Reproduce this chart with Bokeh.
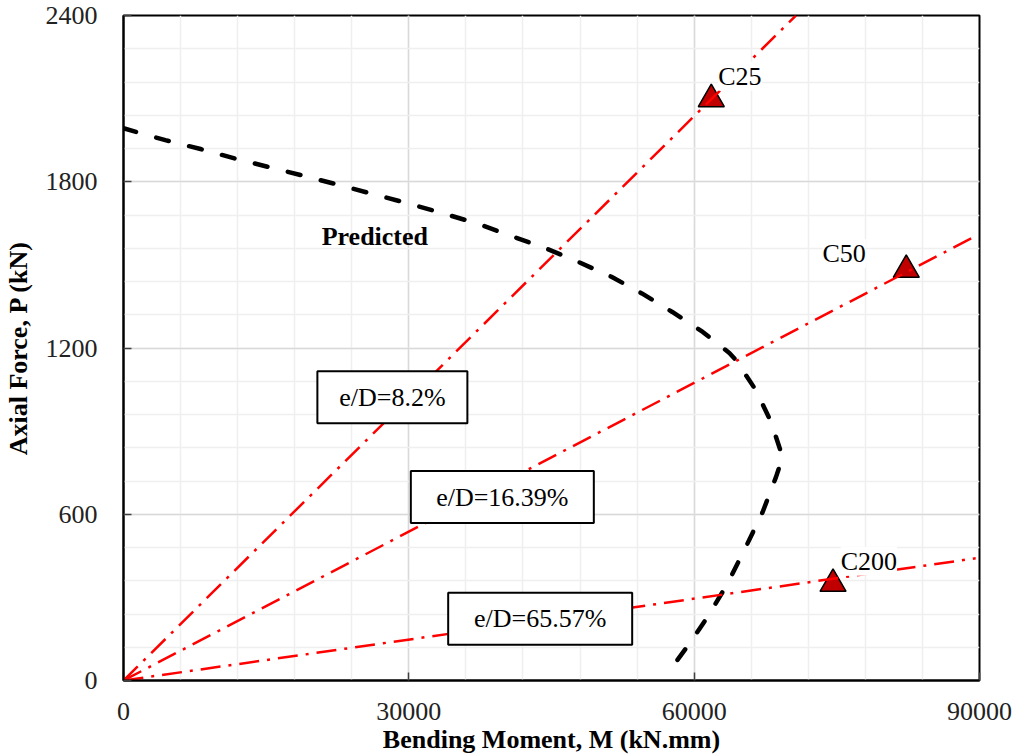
from bokeh.plotting import figure
from bokeh.models import Range1d, FixedTicker, NumeralTickFormatter, Label
from bokeh.core.properties import value
from bokeh.embed import file_html
from bokeh.resources import INLINE

# ---------------- data ----------------
# Predicted P-M interaction curve (M in kN.mm, P in kN)
pred_m = [0, 4400, 8100, 11700, 15400, 19000, 22600, 26300, 29900, 33600,
          37200, 40800, 44300, 47800, 51300, 54500, 57700, 60900, 63700,
          64400, 66500, 68100, 69300, 68600, 67200, 65600, 63500, 61400,
          59500, 57900]
pred_p = [1993, 1950, 1918, 1884, 1852, 1821, 1789, 1755, 1722, 1686,
          1649, 1604, 1561, 1511, 1457, 1397, 1330, 1258, 1182,
          1156, 1047, 932, 806, 734, 608, 494, 349, 229,
          133, 58]

# Eccentricity lines (from the origin)
ecc_labels = ["e/D=8.2%", "e/D=16.39%", "e/D=65.57%"]
ecc_end_m = [70700, 89600, 89600]
ecc_end_p = [2400, 1604, 441]

# Test results
test_names = ["C25", "C50", "C200"]
test_m = [61800, 82300, 74600]
test_p = [2098, 1482, 349]

x_ticks = [0, 30000, 60000, 90000]
y_ticks = [0, 600, 1200, 1800, 2400]

# ---------------- annotation positions ----------------
box_m = [28270, 39830, 43810]
box_p = [1022, 662, 223]
box_w = [150, 183, 184]
name_m = [62530, 73490, 75410]
name_p = [2181, 1541, 430]

FONT = "Liberation Serif"
FS = "26px"

p = figure(width=1017, height=756,
           x_range=Range1d(0, 90000), y_range=Range1d(0, 2400),
           output_backend="svg", toolbar_location=None,
           min_border_left=121, min_border_top=15, min_border_right=38,
           min_border_bottom=76)
p.background_fill_color = "white"
p.border_fill_color = "white"
p.outline_line_color = "black"
p.outline_line_width = 2

p.xaxis.ticker = FixedTicker(ticks=x_ticks, minor_ticks=list(range(0, 90001, 6000)))
p.yaxis.ticker = FixedTicker(ticks=y_ticks, minor_ticks=list(range(0, 2401, 120)))
for ax in (p.xaxis[0], p.yaxis[0]):
    ax.formatter = NumeralTickFormatter(format="0")
    ax.major_tick_in = 8
    ax.major_tick_out = 0
    ax.major_tick_line_color = "#404040"
    ax.major_tick_line_width = 1.5
    ax.minor_tick_line_color = None
    ax.axis_line_color = "black"
    ax.axis_line_width = 2
    ax.major_label_text_font = FONT
    ax.major_label_text_font_size = FS
    ax.major_label_text_color = "#222222"
    ax.axis_label_text_font = FONT
    ax.axis_label_text_font_size = FS
    ax.axis_label_text_font_style = "bold"
    ax.axis_label_text_color = "black"

p.xaxis.axis_label = "Bending Moment, M (kN.mm)"
p.yaxis.axis_label = "Axial Force, P (kN)"
p.xaxis.major_label_standoff = 18
p.xaxis.axis_label_standoff = 2
p.yaxis.major_label_standoff = 22
p.yaxis.axis_label_standoff = 10

for g in (p.xgrid[0], p.ygrid[0]):
    g.grid_line_color = "#d9d9d9"
    g.grid_line_width = 1.5
    g.minor_grid_line_color = "#efefef"
    g.minor_grid_line_width = 1.5

# test points (drawn under the lines)
p.scatter(test_m, test_p, marker="triangle", size=26,
          fill_color="#c00000", line_color="black", line_width=1.5)

# predicted curve
p.line(pred_m, pred_p, line_color="black", line_width=4.5,
       line_dash="13 21", line_cap="round", line_join="round")

# eccentricity lines
p.multi_line(xs=[[0, m] for m in ecc_end_m], ys=[[0, v] for v in ecc_end_p],
             line_color="#ff0000", line_width=2.5, line_dash="20 8 3 8")

# e/D boxes
p.rect(x=box_m, y=box_p, width=box_w, height=52,
       width_units="screen", height_units="screen",
       fill_color="white", line_color="black", line_width=2)
p.text(x=box_m, y=box_p, text=ecc_labels, text_align="center",
       text_baseline="middle", text_font=value(FONT),
       text_font_size=value(FS), text_color="black")

# test name labels
for nm, xm, yp in zip(test_names, name_m, name_p):
    p.add_layout(Label(x=xm, y=yp, text=nm, text_align="left",
                       text_baseline="middle", text_font=FONT,
                       text_font_size=FS, text_color="black",
                       background_fill_color="white"))

p.add_layout(Label(x=20834, y=1601, text="Predicted", text_align="left",
                   text_baseline="middle", text_font=FONT,
                   text_font_size=FS, text_font_style="bold",
                   text_color="black"))

open("out.html", "w").write(file_html(p, INLINE))
